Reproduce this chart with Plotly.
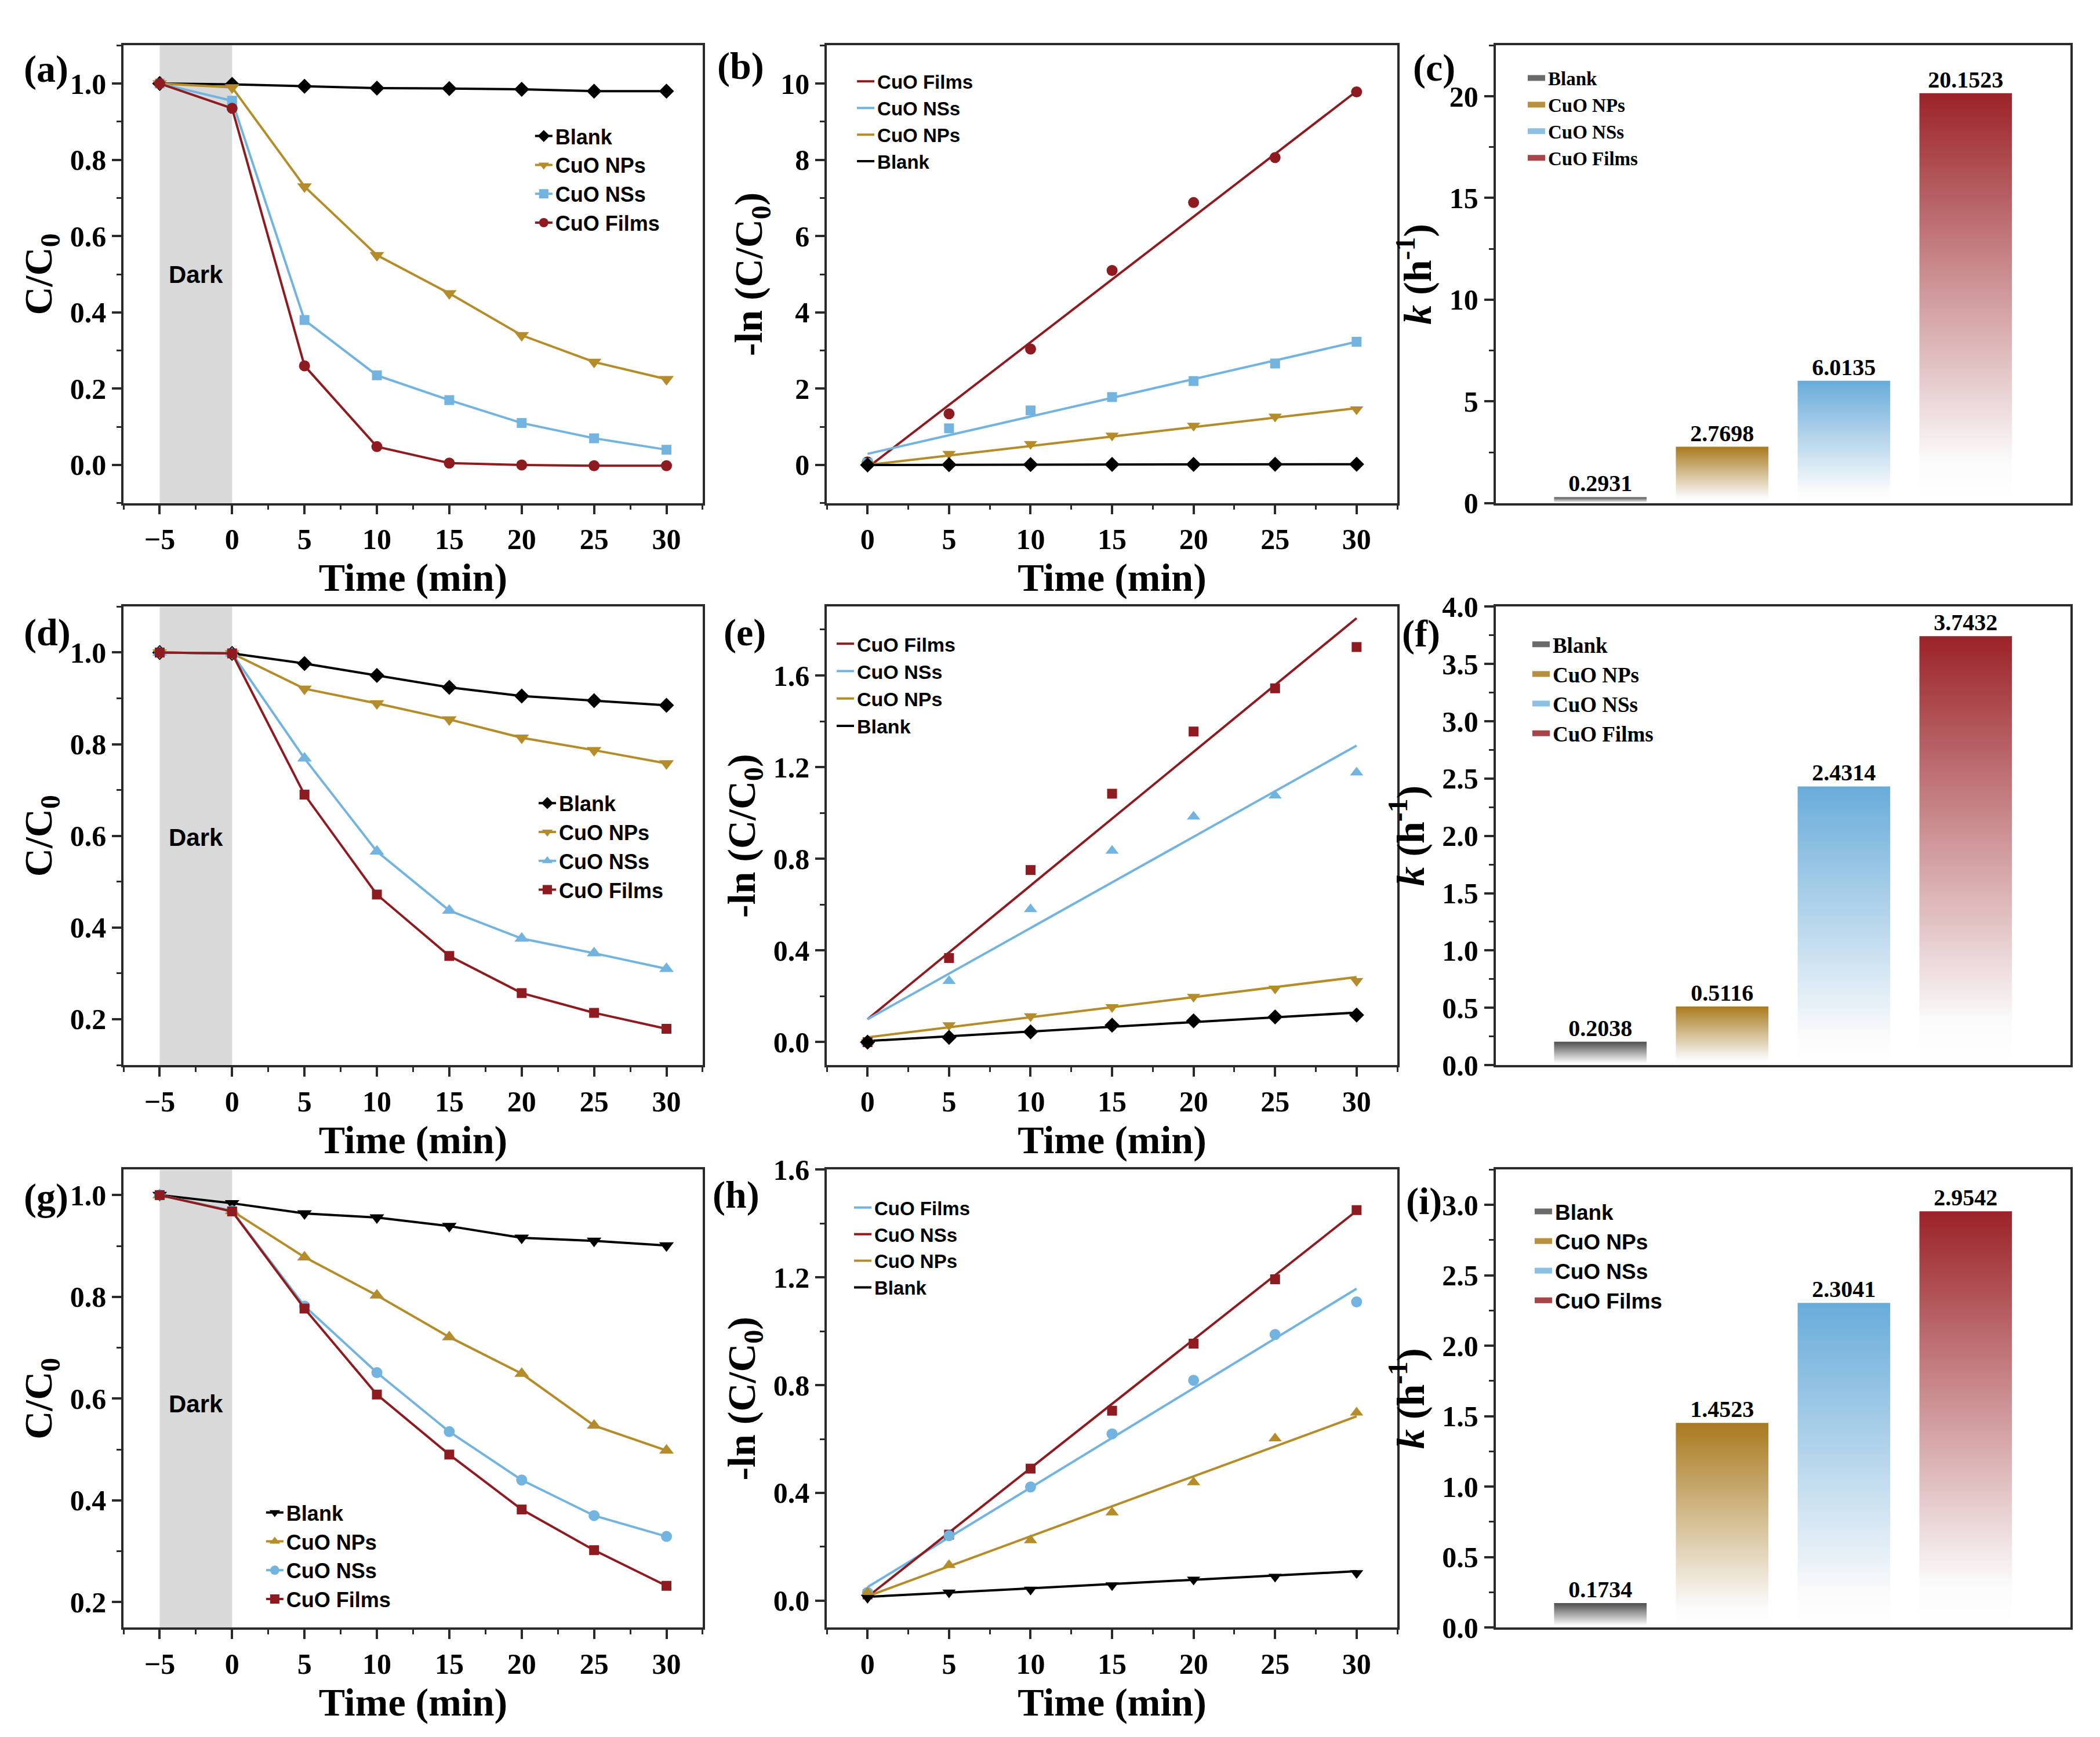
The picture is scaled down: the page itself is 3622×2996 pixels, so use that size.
import plotly.graph_objects as go
from plotly.subplots import make_subplots

# ---- data ----
t_full = [-5, 0, 5, 10, 15, 20, 25, 30]
t_kin = [0, 5, 10, 15, 20, 25, 30]
t_fit = [0, 30]
dark_period = [-5, 0]

# (a) C/C0
a_blank = [1.0, 0.998, 0.993, 0.988, 0.987, 0.985, 0.980, 0.980]
a_nps = [1.0, 0.99, 0.73, 0.55, 0.45, 0.34, 0.27, 0.225]
a_nss = [1.0, 0.955, 0.38, 0.235, 0.17, 0.11, 0.07, 0.04]
a_films = [1.0, 0.935, 0.26, 0.048, 0.005, 0.0, -0.002, -0.002]

# (b) -ln(C/C0)
b_films = [0.08, 1.34, 3.04, 5.10, 6.88, 8.06, 9.78]
b_nss = [0.05, 0.96, 1.43, 1.78, 2.20, 2.66, 3.23]
b_nps = [0.01, 0.29, 0.55, 0.77, 1.03, 1.27, 1.46]
b_blank = [0.0, 0.007, 0.012, 0.013, 0.015, 0.02, 0.02]
b_fit_films = [-0.07, 9.8]
b_fit_nss = [0.29, 3.23]
b_fit_nps = [0.0, 1.49]
b_fit_blank = [0.0, 0.02]

# (d) C/C0
d_blank = [1.0, 0.998, 0.976, 0.950, 0.924, 0.905, 0.895, 0.885]
d_nps = [1.0, 0.998, 0.921, 0.889, 0.854, 0.814, 0.787, 0.758]
d_nss = [1.0, 0.998, 0.769, 0.566, 0.437, 0.376, 0.344, 0.310]
d_films = [1.0, 0.998, 0.690, 0.472, 0.338, 0.257, 0.214, 0.179]

# (e) -ln(C/C0)
e_films = [0.0, 0.367, 0.751, 1.084, 1.355, 1.544, 1.724]
e_nss = [0.0, 0.267, 0.580, 0.835, 0.984, 1.076, 1.176]
e_nps = [0.0, 0.074, 0.113, 0.153, 0.198, 0.234, 0.267]
e_blank = [0.0, 0.021, 0.045, 0.074, 0.093, 0.110, 0.118]
e_fit_films = [0.10, 1.85]
e_fit_nss = [0.10, 1.294]
e_fit_nps = [0.021, 0.284]
e_fit_blank = [0.005, 0.129]

# (g) C/C0
g_blank = [1.0, 0.984, 0.964, 0.956, 0.939, 0.916, 0.910, 0.901]
g_nps = [1.0, 0.969, 0.878, 0.803, 0.721, 0.649, 0.547, 0.498]
g_nss = [1.0, 0.969, 0.782, 0.651, 0.535, 0.440, 0.370, 0.329]
g_films = [1.0, 0.968, 0.777, 0.608, 0.490, 0.382, 0.302, 0.232]

# (h) -ln(C/C0)  (legend labels as printed in the figure)
h_red = [0.023, 0.245, 0.49, 0.705, 0.954, 1.193, 1.450]
h_blue = [0.03, 0.241, 0.422, 0.619, 0.818, 0.988, 1.109]
h_nps = [0.03, 0.132, 0.224, 0.327, 0.439, 0.602, 0.698]
h_blank = [0.01, 0.03, 0.041, 0.057, 0.078, 0.089, 0.102]
h_fit_red = [0.014, 1.447]
h_fit_blue = [0.05, 1.158]
h_fit_nps = [0.016, 0.684]
h_fit_blank = [0.014, 0.109]

# rate constants k (h^-1)
k_labels = ["Blank", "CuO NPs", "CuO NSs", "CuO Films"]
c_k = [0.2931, 2.7698, 6.0135, 20.1523]
f_k = [0.2038, 0.5116, 2.4314, 3.7432]
i_k = [0.1734, 1.4523, 2.3041, 2.9542]

# ---- styling ----
SERIF = "Liberation Serif"
SANS = "Liberation Sans"
AX = "#2a2a2a"
C_BLANK = "#000000"
C_NPS = "#B58C2A"
C_NSS = "#72B4DF"
C_FILMS = "#8E1B1F"
BAR_TOPS = ["#4f4f4f", "#A97A1E", "#68ACDA", "#9B2328"]
SWATCH = ["#6a6a6a", "#B8903F", "#8CC0E4", "#A8454A"]
BW = 0.76

fig = make_subplots(rows=3, cols=3)

col_dom = [[0.0566, 0.3324], [0.3915, 0.6632], [0.7100, 0.9837]]
row_dom = [[0.717, 0.9856], [0.3872, 0.6562], [0.0571, 0.3258]]


def ax_style(rng, dtick, tick0, minor_dtick, fmt=None):
    return dict(
        range=rng, dtick=dtick, tick0=tick0, tickformat=fmt,
        showline=True, mirror=True, linecolor=AX, linewidth=3.5,
        ticks="outside", ticklen=16, tickwidth=3.5, tickcolor=AX,
        showgrid=False, zeroline=False,
        tickfont=dict(family=SERIF, size=50, color="black", weight="bold"),
        minor=dict(dtick=minor_dtick, tick0=tick0, ticks="outside", ticklen=8,
                   tickwidth=3, tickcolor=AX, showgrid=False),
    )


def title(text):
    return dict(text=text, font=dict(family=SERIF, size=68, color="black", weight="bold"), standoff=10)


def line_series(row, col, x, y, color, symbol, size, name, leg, show=True, mode="lines+markers"):
    fig.add_trace(go.Scatter(
        x=x, y=y, mode=mode, name=name, legend=leg, showlegend=show,
        line=dict(color=color, width=4),
        marker=dict(color=color, symbol=symbol, size=size),
    ), row=row, col=col)


def bars(row, col, vals, leg):
    for i, (name, v, top, sw) in enumerate(zip(k_labels, vals, BAR_TOPS, SWATCH)):
        fig.add_trace(go.Scatter(
            x=[i - BW / 2, i - BW / 2, i + BW / 2, i + BW / 2, i - BW / 2],
            y=[0, v, v, 0, 0],
            mode="lines", fill="toself", name=name, showlegend=False,
            line=dict(width=0, color=top), fillcolor=top,
            fillgradient=dict(type="vertical",
                              colorscale=[[0, "#ffffff"], [0.1, "#fbfbfb"], [1, top]]),
        ), row=row, col=col)
        # legend swatch entry
        fig.add_trace(go.Scatter(
            x=[None], y=[None], mode="lines", name=name, legend=leg,
            line=dict(width=10, color=sw),
        ), row=row, col=col)
    fig.add_trace(go.Scatter(
        x=list(range(len(vals))), y=vals, mode="text", showlegend=False,
        text=[f"{v:.4f}" for v in vals], textposition="top center",
        textfont=dict(family=SERIF, size=40, color="black", weight="bold"),
    ), row=row, col=col)


# ---- row 1 ----
line_series(1, 1, t_full, a_blank, C_BLANK, "diamond", 20, "Blank", "legend")
line_series(1, 1, t_full, a_nps, C_NPS, "triangle-down", 22, "CuO NPs", "legend")
line_series(1, 1, t_full, a_nss, C_NSS, "square", 17, "CuO NSs", "legend")
line_series(1, 1, t_full, a_films, C_FILMS, "circle", 19, "CuO Films", "legend")

line_series(1, 2, t_fit, b_fit_films, C_FILMS, "circle", 1, "CuO Films", "legend2", mode="lines")
line_series(1, 2, t_fit, b_fit_nss, C_NSS, "square", 1, "CuO NSs", "legend2", mode="lines")
line_series(1, 2, t_fit, b_fit_nps, C_NPS, "triangle-down", 1, "CuO NPs", "legend2", mode="lines")
line_series(1, 2, t_fit, b_fit_blank, C_BLANK, "diamond", 1, "Blank", "legend2", mode="lines")
line_series(1, 2, t_kin, b_films, C_FILMS, "circle", 19, "", "legend2", False, "markers")
line_series(1, 2, t_kin, b_nss, C_NSS, "square", 17, "", "legend2", False, "markers")
line_series(1, 2, t_kin, b_nps, C_NPS, "triangle-down", 20, "", "legend2", False, "markers")
line_series(1, 2, t_kin, b_blank, C_BLANK, "diamond", 20, "", "legend2", False, "markers")

bars(1, 3, c_k, "legend3")

# ---- row 2 ----
line_series(2, 1, t_full, d_blank, C_BLANK, "diamond", 20, "Blank", "legend4")
line_series(2, 1, t_full, d_nps, C_NPS, "triangle-down", 22, "CuO NPs", "legend4")
line_series(2, 1, t_full, d_nss, C_NSS, "triangle-up", 22, "CuO NSs", "legend4")
line_series(2, 1, t_full, d_films, C_FILMS, "square", 17, "CuO Films", "legend4")

line_series(2, 2, t_fit, e_fit_films, C_FILMS, "square", 1, "CuO Films", "legend5", mode="lines")
line_series(2, 2, t_fit, e_fit_nss, C_NSS, "triangle-up", 1, "CuO NSs", "legend5", mode="lines")
line_series(2, 2, t_fit, e_fit_nps, C_NPS, "triangle-down", 1, "CuO NPs", "legend5", mode="lines")
line_series(2, 2, t_fit, e_fit_blank, C_BLANK, "diamond", 1, "Blank", "legend5", mode="lines")
line_series(2, 2, t_kin, e_films, C_FILMS, "square", 17, "", "legend5", False, "markers")
line_series(2, 2, t_kin, e_nss, C_NSS, "triangle-up", 20, "", "legend5", False, "markers")
line_series(2, 2, t_kin, e_nps, C_NPS, "triangle-down", 20, "", "legend5", False, "markers")
line_series(2, 2, t_kin, e_blank, C_BLANK, "diamond", 20, "", "legend5", False, "markers")

bars(2, 3, f_k, "legend6")

# ---- row 3 ----
line_series(3, 1, t_full, g_blank, C_BLANK, "triangle-down", 22, "Blank", "legend7")
line_series(3, 1, t_full, g_nps, C_NPS, "triangle-up", 22, "CuO NPs", "legend7")
line_series(3, 1, t_full, g_nss, C_NSS, "circle", 19, "CuO NSs", "legend7")
line_series(3, 1, t_full, g_films, C_FILMS, "square", 17, "CuO Films", "legend7")

line_series(3, 2, t_fit, h_fit_blue, C_NSS, "circle", 1, "CuO Films", "legend8", mode="lines")
line_series(3, 2, t_fit, h_fit_red, C_FILMS, "square", 1, "CuO NSs", "legend8", mode="lines")
line_series(3, 2, t_fit, h_fit_nps, C_NPS, "triangle-up", 1, "CuO NPs", "legend8", mode="lines")
line_series(3, 2, t_fit, h_fit_blank, C_BLANK, "triangle-down", 1, "Blank", "legend8", mode="lines")
line_series(3, 2, t_kin, h_red, C_FILMS, "square", 17, "", "legend8", False, "markers")
line_series(3, 2, t_kin, h_blue, C_NSS, "circle", 19, "", "legend8", False, "markers")
line_series(3, 2, t_kin, h_nps, C_NPS, "triangle-up", 20, "", "legend8", False, "markers")
line_series(3, 2, t_kin, h_blank, C_BLANK, "triangle-down", 20, "", "legend8", False, "markers")

bars(3, 3, i_k, "legend9")

# ---- axes ----
x_time = ax_style([-7.5, 32.5], 5, -5, 2.5)
x_kin = ax_style([-2.5, 32.5], 5, 0, 2.5)
x_bar = dict(range=[-0.86, 3.86], showticklabels=False, ticks="", showline=True, mirror=True,
             linecolor=AX, linewidth=3.5, showgrid=False, zeroline=False)

y_specs = {
    1: (ax_style([-0.1, 1.1], 0.2, 0, 0.1, ".1f"), "C/C<sub>0</sub>"),
    2: (ax_style([-1, 11], 2, 0, 1), "-ln (C/C<sub>0</sub>)"),
    3: (ax_style([0, 22.5], 5, 0, 2.5), "<i>k</i> (h<sup>-1</sup>)"),
    4: (ax_style([0.1, 1.1], 0.2, 0, 0.1, ".1f"), "C/C<sub>0</sub>"),
    5: (ax_style([-0.1, 1.9], 0.4, 0, 0.2, ".1f"), "-ln (C/C<sub>0</sub>)"),
    6: (ax_style([0, 4.0], 0.5, 0, 0.25, ".1f"), "<i>k</i> (h<sup>-1</sup>)"),
    7: (ax_style([0.15, 1.05], 0.2, 0, 0.1, ".1f"), "C/C<sub>0</sub>"),
    8: (ax_style([-0.1, 1.6], 0.4, 0, 0.2, ".1f"), "-ln (C/C<sub>0</sub>)"),
    9: (ax_style([0, 3.25], 0.5, 0, 0.25, ".1f"), "<i>k</i> (h<sup>-1</sup>)"),
}

for n in range(1, 10):
    r, c = (n - 1) // 3, (n - 1) % 3
    sfx = "" if n == 1 else str(n)
    if c == 0:
        xa = dict(x_time, title=title("Time (min)"))
    elif c == 1:
        xa = dict(x_kin, title=title("Time (min)"))
    else:
        xa = dict(x_bar)
    xa["domain"] = col_dom[c]
    ya, ytxt = y_specs[n]
    ya = dict(ya, title=title(ytxt), domain=row_dom[r])
    fig.layout["xaxis" + sfx].update(xa)
    fig.layout["yaxis" + sfx].update(ya)

# dark period shading
for r in (1, 2, 3):
    fig.add_vrect(x0=dark_period[0], x1=dark_period[1], row=r, col=1,
                  fillcolor="#d9d9d9", opacity=1, line_width=0, layer="below")
for r, yv in ((1, 0.5), (2, 0.596), (3, 0.59)):
    fig.add_annotation(x=sum(dark_period) / 2, y=yv, text="Dark", showarrow=False, row=r, col=1,
                       font=dict(family=SANS, size=42, color="black", weight="bold"))

# panel labels
panel_pos = {
    "(a)": (0.0086, 0.9716), "(b)": (0.3388, 0.9733), "(c)": (0.6700, 0.9723),
    "(d)": (0.0086, 0.6412), "(e)": (0.3418, 0.6412), "(f)": (0.6648, 0.6405),
    "(g)": (0.0086, 0.3097), "(h)": (0.3366, 0.3111), "(i)": (0.6668, 0.3071),
}
for lbl, (px, py) in panel_pos.items():
    fig.add_annotation(x=px, y=py, xref="paper", yref="paper", text=lbl, showarrow=False,
                       xanchor="left", yanchor="middle",
                       font=dict(family=SERIF, size=66, color="black", weight="bold"))


def legend(x, y, fam, size):
    return dict(x=x, y=y, xanchor="left", yanchor="top", bgcolor="rgba(0,0,0,0)",
                traceorder="normal", tracegroupgap=0,
                font=dict(family=fam, size=size, color="black", weight="bold"))


fig.update_layout(
    width=3622, height=2996,
    margin=dict(l=0, r=0, t=0, b=0),
    paper_bgcolor="white", plot_bgcolor="white",
    legend=legend(0.2512, 0.9426, SANS, 36),
    legend2=legend(0.4045, 0.974, SANS, 33),
    legend3=legend(0.7239, 0.976, SERIF, 33),
    legend4=legend(0.2529, 0.5511, SANS, 36),
    legend5=legend(0.3948, 0.6442, SANS, 34),
    legend6=legend(0.7261, 0.6445, SERIF, 37),
    legend7=legend(0.1231, 0.1348, SANS, 36),
    legend8=legend(0.4031, 0.3131, SANS, 33),
    legend9=legend(0.7272, 0.3117, SANS, 37),
)

fig.write_html("out.html")
